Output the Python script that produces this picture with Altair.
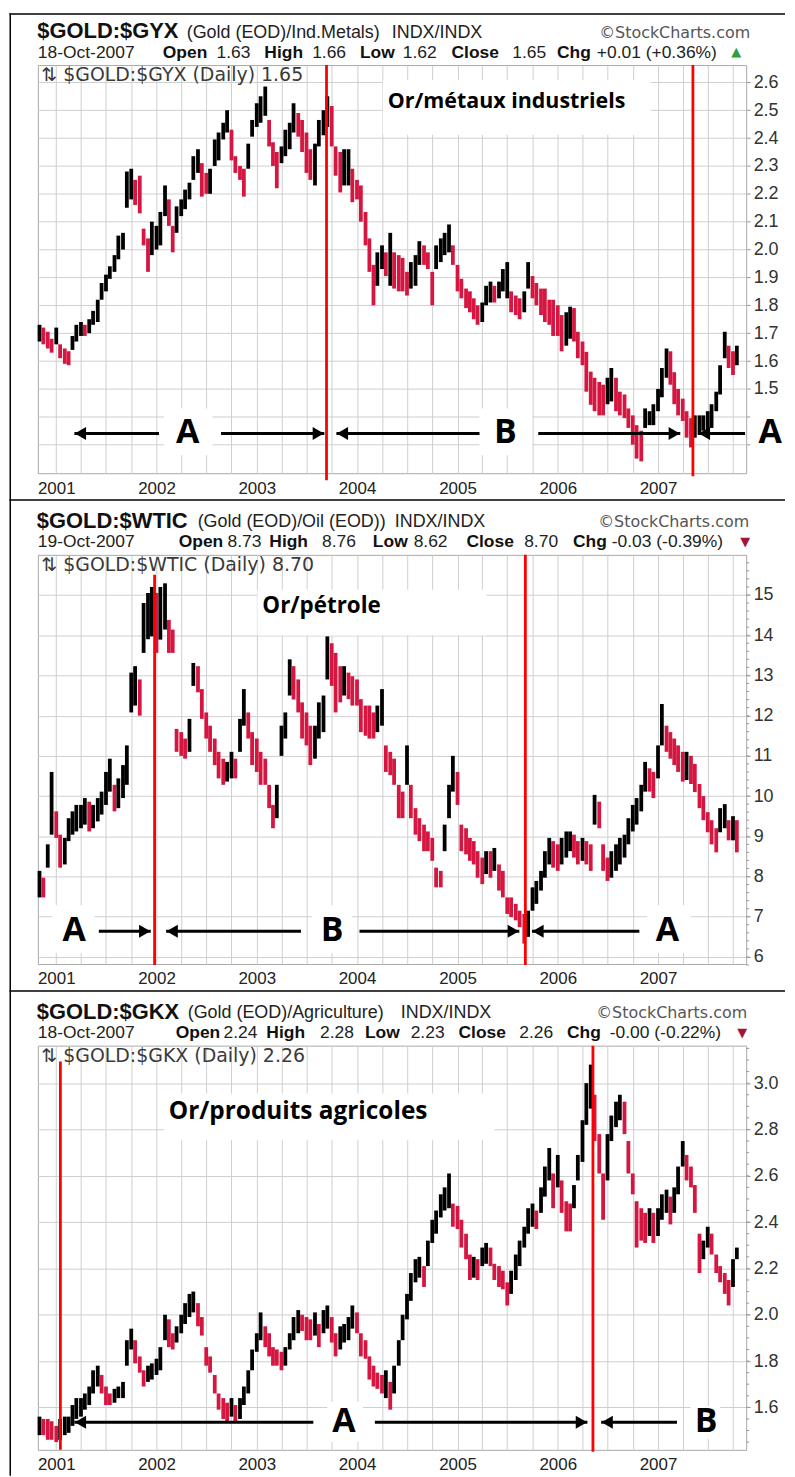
import altair as alt
import pandas as pd

# ---------------- data: semi-monthly samples (1st / 15th), first sample 2000-11-01 ----------------
GYX_LO = [1.67, 1.66, 1.645, 1.63, 1.66, 1.61, 1.59, 1.585, 1.64, 1.67,
          1.69, 1.69, 1.70, 1.73, 1.74, 1.82, 1.85, 1.895, 1.92, 1.965,
          2.0, 2.15, 2.18, 2.16, 2.13, 2.015, 1.92, 1.98, 2.0, 2.015,
          2.12, 2.085, 1.99, 2.06, 2.12, 2.145, 2.18, 2.25, 2.275, 2.19,
          2.2, 2.2, 2.3, 2.32, 2.395, 2.42, 2.32, 2.275, 2.25, 2.19,
          2.29, 2.405, 2.44, 2.455, 2.48, 2.37, 2.3, 2.22, 2.31, 2.335,
          2.36, 2.42, 2.405, 2.35, 2.275, 2.25, 2.23, 2.37, 2.41, 2.44,
          2.37, 2.265, 2.205, 2.23, 2.23, 2.17, 2.18, 2.1, 2.015, 1.92,
          1.8, 1.87, 1.93, 1.905, 1.87, 1.86, 1.85, 1.85, 1.835, 1.86,
          1.87, 1.945, 1.945, 1.93, 1.8, 1.93, 1.955, 1.98, 1.99, 1.945,
          1.85, 1.825, 1.79, 1.775, 1.75, 1.73, 1.74, 1.8, 1.81, 1.81,
          1.825, 1.85, 1.825, 1.775, 1.765, 1.75, 1.775, 1.86, 1.825, 1.8,
          1.765, 1.74, 1.73, 1.69, 1.69, 1.635, 1.655, 1.68, 1.67, 1.61,
          1.585, 1.49, 1.443, 1.42, 1.405, 1.405, 1.445, 1.455, 1.42, 1.405,
          1.395, 1.36, 1.3, 1.25, 1.24, 1.36, 1.37, 1.37, 1.42, 1.47,
          1.54, 1.515, 1.445, 1.405, 1.385, 1.325, 1.29, 1.325, 1.335, 1.35,
          1.35, 1.36, 1.42, 1.48, 1.61, 1.575, 1.55, 1.585]
GYX_HI = [1.73, 1.72, 1.705, 1.68, 1.72, 1.66, 1.645, 1.635, 1.69, 1.73,
          1.74, 1.73, 1.75, 1.78, 1.82, 1.88, 1.91, 1.94, 1.98, 2.05,
          2.06, 2.28, 2.29, 2.25, 2.265, 2.075, 2.04, 2.1, 2.085, 2.135,
          2.23, 2.18, 2.085, 2.155, 2.18, 2.215, 2.24, 2.335, 2.36, 2.31,
          2.275, 2.29, 2.395, 2.42, 2.455, 2.5, 2.43, 2.335, 2.3, 2.29,
          2.38, 2.465, 2.525, 2.55, 2.585, 2.465, 2.385, 2.35, 2.37, 2.43,
          2.455, 2.525, 2.49, 2.465, 2.42, 2.36, 2.38, 2.465, 2.5, 2.55,
          2.515, 2.37, 2.35, 2.36, 2.36, 2.29, 2.25, 2.23, 2.135, 2.04,
          1.945, 1.99, 2.015, 1.99, 2.06, 1.99, 1.98, 1.97, 1.92, 1.955,
          1.98, 2.03, 2.015, 1.99, 1.92, 2.015, 2.04, 2.06, 2.09, 2.015,
          1.945, 1.895, 1.86, 1.85, 1.825, 1.8, 1.81, 1.87, 1.885, 1.87,
          1.885, 1.93, 1.955, 1.85, 1.835, 1.825, 1.85, 1.955, 1.905, 1.88,
          1.86, 1.86, 1.82, 1.82, 1.8, 1.765, 1.775, 1.795, 1.79, 1.705,
          1.67, 1.633, 1.562, 1.54, 1.525, 1.515, 1.54, 1.575, 1.54, 1.49,
          1.48, 1.43, 1.405, 1.37, 1.35, 1.43, 1.42, 1.445, 1.5, 1.575,
          1.645, 1.635, 1.56, 1.5, 1.465, 1.42, 1.395, 1.405, 1.405, 1.405,
          1.42, 1.445, 1.49, 1.585, 1.705, 1.655, 1.635, 1.655]

WTIC_LO = [7.48, 7.48, 8.22, 9.04, 8.96, 8.22, 8.3, 8.88, 9.04, 9.12,
           9.2, 9.29, 9.12, 9.2, 9.37, 9.54, 9.78, 10.11, 9.62, 9.7,
           9.95, 10.28, 12.08, 12.25, 12.0, 13.56, 13.9, 13.97, 13.56, 13.89,
           14.14, 13.56, 13.56, 11.1, 11.0, 10.93, 11.1, 12.74, 12.58, 11.92,
           11.43, 11.1, 10.77, 10.44, 10.28, 10.36, 10.44, 10.44, 11.1, 11.75,
           11.43, 10.77, 10.6, 10.28, 10.28, 9.7, 9.2, 9.45, 11.0, 11.43,
           12.5, 12.4, 12.08, 11.43, 11.26, 10.77, 10.93, 11.43, 11.59, 12.9,
           12.74, 12.08, 12.33, 12.5, 12.41, 12.25, 12.25, 11.59, 11.5, 11.43,
           11.43, 11.59, 11.75, 10.6, 10.52, 10.28, 9.45, 9.45, 10.28, 9.45,
           9.04, 8.88, 8.63, 8.63, 8.39, 7.73, 7.73, 8.63, 9.45, 10.11,
           9.78, 8.63, 8.55, 8.39, 8.3, 7.97, 7.81, 8.06, 7.97, 8.14,
           7.65, 7.48, 7.07, 6.99, 6.91, 6.74, 6.33, 6.5, 7.15, 7.32,
           7.65, 7.97, 8.3, 8.22, 8.14, 8.3, 8.47, 8.63, 8.47, 8.3,
           8.39, 8.3, 8.14, 9.29, 9.2, 8.14, 7.89, 7.97, 8.14, 8.3,
           8.47, 8.8, 9.12, 9.29, 9.62, 10.11, 10.11, 9.95, 10.44, 11.26,
           11.1, 10.93, 10.77, 10.6, 10.36, 10.4, 10.3, 10.1, 9.7, 9.4,
           9.1, 8.8, 8.6, 9.1, 9.2, 8.9, 8.9, 8.6]
WTIC_HI = [8.14, 7.97, 8.8, 10.6, 9.62, 9.04, 8.96, 9.45, 9.62, 9.78,
           9.78, 9.95, 9.86, 9.78, 9.95, 10.11, 10.6, 10.93, 10.28, 10.44,
           10.77, 11.26, 13.07, 13.23, 12.9, 14.8, 15.05, 15.2, 15.05, 15.2,
           15.29, 14.38, 14.14, 11.67, 11.59, 11.43, 11.92, 13.31, 13.23, 12.66,
           12.08, 11.75, 11.43, 11.1, 10.93, 10.85, 11.1, 10.93, 11.92, 12.66,
           12.08, 11.59, 11.43, 11.1, 10.93, 10.28, 9.78, 10.28, 11.75, 12.08,
           13.4, 13.23, 12.9, 12.33, 12.08, 11.75, 11.75, 12.33, 12.5, 13.97,
           13.8, 13.56, 13.23, 13.23, 13.07, 12.98, 12.9, 12.41, 12.25, 12.25,
           12.08, 12.25, 12.66, 11.26, 11.1, 10.93, 10.28, 10.11, 11.26, 10.28,
           9.7, 9.45, 9.29, 9.12, 8.96, 8.22, 8.14, 9.29, 10.28, 11.0,
           10.6, 9.29, 9.2, 8.96, 8.88, 8.63, 8.47, 8.63, 8.63, 8.71,
           8.3, 8.14, 7.48, 7.48, 7.32, 7.15, 7.07, 7.15, 7.73, 7.89,
           8.14, 8.63, 8.96, 8.88, 8.8, 8.96, 9.12, 9.12, 9.04, 8.88,
           8.96, 8.88, 8.8, 10.03, 9.86, 8.8, 8.47, 8.63, 8.8, 8.96,
           9.04, 9.45, 9.78, 9.95, 10.28, 10.85, 10.69, 10.6, 11.26, 12.29,
           11.75, 11.59, 11.43, 11.26, 11.1, 11.1, 11.0, 10.8, 10.3, 10.0,
           9.6, 9.4, 9.2, 9.7, 9.8, 9.4, 9.5, 9.4]

GKX_LO = [1.48, 1.48, 1.46, 1.46, 1.45, 1.46, 1.48, 1.49, 1.52, 1.55,
          1.56, 1.59, 1.61, 1.66, 1.69, 1.66, 1.61, 1.61, 1.62, 1.64,
          1.64, 1.78, 1.85, 1.79, 1.75, 1.69, 1.71, 1.72, 1.74, 1.76,
          1.89, 1.86, 1.85, 1.88, 1.92, 1.96, 1.99, 2.01, 1.95, 1.91,
          1.78, 1.75, 1.66, 1.59, 1.55, 1.54, 1.56, 1.54, 1.55, 1.61,
          1.66, 1.76, 1.84, 1.89, 1.86, 1.82, 1.78, 1.78, 1.76, 1.78,
          1.85, 1.89, 1.92, 1.93, 1.89, 1.89, 1.91, 1.86, 1.92, 1.94,
          1.88, 1.82, 1.85, 1.88, 1.89, 1.94, 1.92, 1.82, 1.81, 1.72,
          1.69, 1.68, 1.66, 1.64, 1.59, 1.66, 1.78, 1.89, 1.98, 2.06,
          2.14, 2.16, 2.12, 2.21, 2.31, 2.35, 2.42, 2.45, 2.46, 2.38,
          2.37, 2.29, 2.24, 2.15, 2.16, 2.15, 2.21, 2.22, 2.21, 2.15,
          2.12, 2.11, 2.04, 2.09, 2.15, 2.21, 2.29, 2.35, 2.38, 2.37,
          2.44, 2.51, 2.58, 2.46, 2.55, 2.44, 2.36, 2.36, 2.46, 2.58,
          2.66, 2.82, 2.89, 2.75, 2.61, 2.41, 2.58, 2.75, 2.81, 2.84,
          2.78, 2.61, 2.52, 2.29, 2.32, 2.31, 2.34, 2.31, 2.34, 2.41,
          2.44, 2.39, 2.44, 2.52, 2.64, 2.58, 2.55, 2.44, 2.18, 2.24,
          2.29, 2.26, 2.18, 2.14, 2.09, 2.04, 2.12, 2.24]
GKX_HI = [1.56, 1.55, 1.55, 1.54, 1.52, 1.55, 1.56, 1.56, 1.61, 1.64,
          1.64, 1.66, 1.69, 1.76, 1.78, 1.74, 1.69, 1.66, 1.68, 1.69,
          1.71, 1.89, 1.94, 1.89, 1.82, 1.76, 1.78, 1.79, 1.81, 1.86,
          2.0, 1.98, 1.92, 1.95, 2.0, 2.05, 2.09, 2.1, 2.05, 1.99,
          1.86, 1.82, 1.74, 1.66, 1.64, 1.62, 1.64, 1.61, 1.64, 1.69,
          1.76, 1.85, 1.92, 2.01, 1.95, 1.92, 1.86, 1.85, 1.84, 1.86,
          1.92, 1.99, 2.02, 2.0, 1.99, 1.98, 2.01, 1.96, 2.02, 2.04,
          1.99, 1.92, 1.95, 1.96, 1.99, 2.04, 2.01, 1.92, 1.89, 1.82,
          1.78, 1.75, 1.74, 1.76, 1.71, 1.78, 1.89, 2.0, 2.09, 2.18,
          2.24, 2.25, 2.21, 2.32, 2.41, 2.45, 2.52, 2.55, 2.61, 2.48,
          2.47, 2.41, 2.35, 2.26, 2.25, 2.24, 2.29, 2.31, 2.29, 2.22,
          2.21, 2.19, 2.14, 2.19, 2.26, 2.32, 2.38, 2.46, 2.48, 2.45,
          2.55, 2.64, 2.72, 2.61, 2.69, 2.58, 2.49, 2.48, 2.56, 2.69,
          2.84, 3.0, 3.08, 2.95, 2.78, 2.61, 2.78, 2.86, 2.92, 2.95,
          2.92, 2.75, 2.61, 2.49, 2.46, 2.44, 2.46, 2.44, 2.46, 2.52,
          2.54, 2.51, 2.55, 2.64, 2.75, 2.69, 2.64, 2.56, 2.35, 2.32,
          2.38, 2.35, 2.26, 2.21, 2.18, 2.15, 2.24, 2.29]

YEARS = [2001, 2002, 2003, 2004, 2005, 2006, 2007]
GYX_TICKS = [1.3, 1.4, 1.5, 1.6, 1.7, 1.8, 1.9, 2.0, 2.1, 2.2, 2.3, 2.4, 2.5, 2.6]
WTIC_TICKS = [6, 7, 8, 9, 10, 11, 12, 13, 14, 15]
GKX_TICKS = [1.6, 1.8, 2.0, 2.2, 2.4, 2.6, 2.8, 3.0]
WTIC_MINOR = [round(5.8 + 0.2 * i, 2) for i in range(51)]
GKX_MINOR = [round(1.45 + 0.05 * i, 2) for i in range(35)]

GYX_EVENTS = ["2003-09-12", "2007-05-08"]
WTIC_EVENTS = ["2001-12-25", "2005-09-05"]
GKX_EVENTS = ["2001-01-16", "2006-05-09"]

# ---------------- helpers ----------------
def dt(y):
    yr = int(y)
    a = pd.Timestamp(yr, 1, 1)
    b = pd.Timestamp(yr + 1, 1, 1)
    return (a + (b - a) * (y - yr)).strftime("%Y-%m-%d")


def series_df(lo, hi):
    dates = pd.date_range("2000-11-01", periods=len(lo), freq="SMS")
    df = pd.DataFrame({"date": dates.strftime("%Y-%m-%d"), "lo": lo, "hi": hi})
    mid = (df["lo"] + df["hi"]) / 2
    df["dir"] = ["up" if d >= 0 else "down" for d in mid.diff().fillna(0)]
    return df


W = 711.5
SANS = "Liberation Sans, Arial, Helvetica, sans-serif"
VERD = "DejaVu Sans, Verdana, sans-serif"
BOLDF = "Open Sans, Lato, sans-serif"
GRID = "#cfcfcf"
DUMMY = alt.Data(values=[{"k": 0}])

XS = alt.Scale(domain=[alt.DateTime(year=2000, month=10, date=26, utc=True),
                       alt.DateTime(year=2007, month=11, date=18, utc=True)])
QUARTERS = [alt.DateTime(year=y, month=m, date=1, utc=True) for y in YEARS for m in (1, 4, 7, 10)]
XAXIS = alt.Axis(values=QUARTERS, labelExpr="utcmonth(datum.value) == 0 ? utcFormat(datum.value, '%Y') : ''",
                 grid=True, gridColor=GRID, gridWidth=1, ticks=False, domain=False,
                 labelFont=SANS, labelFontSize=17, labelColor="#222", labelPadding=7,
                 labelFlush=False, labelOverlap=False, title=None)
COLS = alt.Scale(domain=["up", "down"], range=["#000000", "#d41640"])

STY = {
    "T": dict(font=SANS, fontSize=22, fontWeight="bold", color="#111"),
    "S": dict(font=SANS, fontSize=18, color="#222"),
    "B": dict(font=SANS, fontSize=17.5, fontWeight="bold", color="#111"),
    "R": dict(font=SANS, fontSize=17.5, color="#222"),
    "C": dict(font=VERD, fontSize=16, color="#555", align="right"),
    "U": dict(font=VERD, fontSize=13, color="#2e9e3e"),
    "D": dict(font=VERD, fontSize=13, color="#a3133c"),
}
LINE_Y = {"T": -27, "S": -27.5, "C": -27.5, "B": -7.5, "R": -7.5, "U": -9, "D": -9}


def txt(text, x, y, **kw):
    kw.setdefault("align", "left")
    kw.setdefault("baseline", "alphabetic")
    return alt.Chart(DUMMY).mark_text(text=text, **kw).encode(x=alt.value(x), y=alt.value(y))


def rect(x0, x1, y0, y1):
    return alt.Chart(DUMMY).mark_rect(color="white").encode(
        x=alt.value(x0), x2=alt.value(x1), y=alt.value(y0), y2=alt.value(y1))


def vline(x, y0, y1, color="black", w=1.5):
    return alt.Chart(DUMMY).mark_rule(color=color, strokeWidth=w).encode(
        x=alt.value(x), y=alt.value(y0), y2=alt.value(y1))


def hline(x0, x1, y, color="black", w=1.5):
    return alt.Chart(DUMMY).mark_rule(color=color, strokeWidth=w).encode(
        x=alt.value(x0), x2=alt.value(x1), y=alt.value(y))


def panel(p):
    YS = alt.Scale(domain=p["ydom"], nice=False, zero=False)
    YAXIS = p["yaxis"]
    df = series_df(p["lo"], p["hi"])
    layers = []
    layers.append(alt.Chart(df).mark_rule(strokeWidth=3.8).encode(
        x=alt.X("date:T", scale=XS, axis=XAXIS),
        y=alt.Y("lo:Q", scale=YS, axis=YAXIS),
        y2="hi:Q",
        color=alt.Color("dir:N", scale=COLS, legend=None)))
    if p.get("minor"):
        mdf = pd.DataFrame({"v": p["minor"]})
        layers.append(alt.Chart(mdf).mark_rule(color="#999", strokeWidth=1).encode(
            y=alt.Y("v:Q", scale=YS, axis=YAXIS), x=alt.value(W), x2=alt.value(W + 3)))
    for b in p["boxes"]:
        layers.append(rect(*b))
    for d, y0, y1 in p["events"]:
        layers.append(alt.Chart(pd.DataFrame({"date": [d]})).mark_rule(color="#ff0000", strokeWidth=2.8).encode(
            x=alt.X("date:T", scale=XS, axis=XAXIS), y=alt.value(y0), y2=alt.value(y1)))
    ay = p["ay"]
    arr = pd.DataFrame({"x0": [dt(a) for a, b in p["arrows"]], "x1": [dt(b) for a, b in p["arrows"]],
                        "y": [ay] * len(p["arrows"])})
    layers.append(alt.Chart(arr).mark_rule(color="black", strokeWidth=3).encode(
        x=alt.X("x0:T", scale=XS, axis=XAXIS), x2="x1:T", y=alt.Y("y:Q", scale=YS, axis=YAXIS)))
    for key, shape, off in (("hl", "triangle-left", 0.06), ("hr", "triangle-right", -0.06)):
        if p[key]:
            hd = pd.DataFrame({"x": [dt(t + off) for t in p[key]], "y": [ay] * len(p[key])})
            layers.append(alt.Chart(hd).mark_point(shape=shape, filled=True, size=170, color="black", opacity=1).encode(
                x=alt.X("x:T", scale=XS, axis=XAXIS), y=alt.Y("y:Q", scale=YS, axis=YAXIS)))
    let = pd.DataFrame({"x": [dt(t) for s, t in p["letters"]], "y": [ay] * len(p["letters"]),
                        "t": [s for s, t in p["letters"]]})
    layers.append(alt.Chart(let).mark_text(font=BOLDF, fontWeight="bold", fontSize=34, color="black",
                                           baseline="middle", align="center").encode(
        x=alt.X("x:T", scale=XS, axis=XAXIS), y=alt.Y("y:Q", scale=YS, axis=YAXIS), text="t:N"))
    lx, ly = p["label_xy"]
    layers.append(txt(p["label"], lx, ly, font=BOLDF, fontWeight="bold", fontSize=p["label_size"], color="#000",
                      baseline="middle"))
    layers.append(txt(p["inlabel"], 3.5, 16, font=VERD, fontSize=19, color="#3a3a3a"))
    for text, x, kind in p["header"]:
        layers.append(txt(text, x, LINE_Y[kind], **STY[kind]))
    for f in p["frame"]:
        layers.append(f)
    return alt.layer(*layers).properties(width=W, height=p["H"])


YAX = dict(orient="right", grid=True, gridColor=GRID, gridWidth=1, domain=False, ticks=True,
           tickSize=4, tickColor="#999", labelFont=SANS, labelFontSize=18, labelColor="#333",
           labelPadding=3, labelFlush=False, title=None)

p1 = panel(dict(
    lo=GYX_LO, hi=GYX_HI, ydom=[1.1975, 2.662], H=410,
    yaxis=alt.Axis(values=GYX_TICKS, labelExpr="datum.value < 1.45 ? '' : format(datum.value, '.1f')", **YAX),
    events=[(GYX_EVENTS[0], 0, 417), (GYX_EVENTS[1], 0, 413)],
    ay=1.3404,
    arrows=[(2001.182, 2002.026), (2002.645, 2003.674), (2003.797, 2005.22), (2005.806, 2007.223), (2007.405, 2007.869)],
    hl=[2001.182, 2003.797, 2007.405], hr=[2003.674, 2007.223],
    letters=[("A", 2002.311), ("B", 2005.479), ("A", 2008.12)],
    boxes=[(346.5, 615.5, 15, 70), (126.5, 175.5, 345, 392), (443.5, 496.5, 345, 392), (715.5, 750, 345, 392)],
    label="Or/métaux industriels", label_xy=(351.5, 37), label_size=21.5,
    inlabel="⇅ $GOLD:$GYX (Daily) 1.65",
    header=[("$GOLD:$GYX", -0.5, "T"), ("(Gold (EOD)/Ind.Metals)", 149.5, "S"), ("INDX/INDX", 355.5, "S"),
            ("©StockCharts.com", 715.5, "C"),
            ("18-Oct-2007", 0, "R"), ("Open", 125.5, "B"), ("1.63", 179.5, "R"), ("High", 227.5, "B"),
            ("1.66", 275.5, "R"), ("Low", 323.5, "B"), ("1.62", 366.5, "R"), ("Close", 415.5, "B"),
            ("1.65", 476.5, "R"), ("Chg", 521.5, "B"), ("+0.01 (+0.36%)", 561.5, "R"), ("▲", 696.5, "U")],
    frame=[hline(-28.5, 750.5, -51.25), vline(-27.75, -52, 437)],
))

p2 = panel(dict(
    lo=WTIC_LO, hi=WTIC_HI, ydom=[5.824, 15.998], H=411,
    yaxis=alt.Axis(values=WTIC_TICKS, format="d", **YAX), minor=WTIC_MINOR,
    events=[(WTIC_EVENTS[0], 20, 412), (WTIC_EVENTS[1], 0, 412)],
    ay=6.64,
    arrows=[(2001.427, 2001.943), (2002.097, 2003.443), (2004.025, 2005.618), (2005.744, 2006.814)],
    hl=[2002.097, 2005.744], hr=[2001.943, 2005.618],
    letters=[("A", 2001.179), ("B", 2003.751), ("A", 2007.094)],
    boxes=[(220.5, 450.5, 35, 81), (14, 57, 352, 400), (275.5, 315.5, 352, 400), (612, 656, 352, 400)],
    label="Or/pétrole", label_xy=(225.5, 51), label_size=22.5,
    inlabel="⇅ $GOLD:$WTIC (Daily) 8.70",
    header=[("$GOLD:$WTIC", -1, "T"), ("(Gold (EOD)/Oil (EOD))", 160.5, "S"), ("INDX/INDX", 358.5, "S"),
            ("©StockCharts.com", 714.5, "C"),
            ("19-Oct-2007", 0, "R"), ("Open", 141.5, "B"), ("8.73", 190.5, "R"), ("High", 232.5, "B"),
            ("8.76", 285.5, "R"), ("Low", 336.5, "B"), ("8.62", 377.5, "R"), ("Close", 430.5, "B"),
            ("8.70", 488.5, "R"), ("Chg", 537.5, "B"), ("-0.03 (-0.39%)", 576.5, "R"), ("▼", 705.5, "D")],
    frame=[hline(-28.5, 750.5, -55), vline(-27.75, -55, 438)],
))

p3 = panel(dict(
    lo=GKX_LO, hi=GKX_HI, ydom=[1.4166, 3.162], H=406,
    yaxis=alt.Axis(values=GKX_TICKS, format=".1f", **YAX), minor=GKX_MINOR,
    events=[(GKX_EVENTS[0], 16, 406), (GKX_EVENTS[1], 0, 408)],
    ay=1.5357,
    arrows=[(2001.182, 2003.565), (2004.178, 2006.296), (2006.435, 2007.19)],
    hl=[2001.182, 2006.435], hr=[2006.296],
    letters=[("A", 2003.87), ("B", 2007.48)],
    boxes=[(126.5, 458.5, 48, 95), (290.5, 326.5, 358, 398), (655.5, 685.5, 362, 395)],
    label="Or/produits agricoles", label_xy=(131.5, 66.7), label_size=24.5,
    inlabel="⇅ $GOLD:$GKX (Daily) 2.26",
    header=[("$GOLD:$GKX", -1, "T"), ("(Gold (EOD)/Agriculture)", 150.5, "S"), ("INDX/INDX", 364.5, "S"),
            ("©StockCharts.com", 712.5, "C"),
            ("18-Oct-2007", 0, "R"), ("Open", 138.5, "B"), ("2.24", 186.5, "R"), ("High", 229.5, "B"),
            ("2.28", 283.5, "R"), ("Low", 328.5, "B"), ("2.23", 374.5, "R"), ("Close", 422.5, "B"),
            ("2.26", 483.5, "R"), ("Chg", 531.5, "B"), ("-0.00 (-0.22%)", 574.5, "R"), ("▼", 702.5, "D")],
    frame=[hline(-28.5, 750.5, -55), vline(-27.75, -55, 432)],
))

chart = alt.vconcat(p1, p2, p3, spacing=82, bounds="flush").resolve_scale(
    x="independent", y="independent", color="independent"
).properties(padding=0, background="white").configure_view(stroke="#a8a8a8", strokeWidth=1)

chart.save("out.html", embed_options={"renderer": "svg", "actions": False})
